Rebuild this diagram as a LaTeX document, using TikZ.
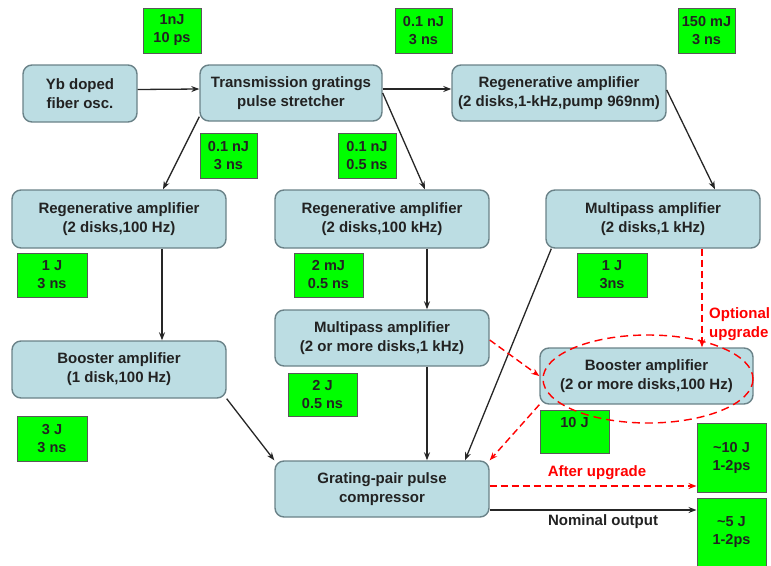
\documentclass[tikz,border=0pt]{standalone}
\usepackage{fontspec}
\setmainfont{Liberation Sans}
\usetikzlibrary{arrows.meta}
\definecolor{boxfill}{HTML}{BCDDE3}
\definecolor{boxline}{HTML}{6A8288}
\definecolor{grn}{HTML}{00FF00}
\definecolor{txt}{HTML}{222222}
\tikzset{
 blk/.style={draw=boxline, fill=boxfill, rounded corners=9pt, line width=1.4pt, align=center, inner sep=0pt, text=txt,
   font=\bfseries\fontsize{15}{19}\selectfont, minimum width=214pt, minimum height=57pt},
 gbox/.style={draw=black!65, fill=grn, line width=1pt, align=center, inner sep=0pt, text=txt,
   font=\bfseries\fontsize{14.5}{18}\selectfont},
 arr/.style={-{Stealth[length=8pt,width=6pt]}, line width=1.3pt, draw=black!85},
 rarr/.style={-{Stealth[length=8pt,width=6pt]}, line width=1.4pt, draw=red, dash pattern=on 7pt off 4pt},
 rlab/.style={text=red, font=\bfseries\fontsize{15}{19}\selectfont, inner sep=0pt},
 blab/.style={text=txt, font=\bfseries\fontsize{15}{19}\selectfont, inner sep=0pt}
}
\begin{document}
\begin{tikzpicture}[x=1pt,y=-1pt]
\useasboundingbox (0,0) rectangle (771,565);
% main blocks
\node[blk, minimum width=114pt, minimum height=57pt] (yb) at (80,93.5) {Yb doped\\fiber osc.};
\node[blk, minimum width=182pt, minimum height=56pt] (str) at (291,93) {Transmission gratings\\pulse stretcher};
\node[blk, minimum height=56pt] (regR) at (559,93) {Regenerative amplifier\\(2 disks,1-kHz,pump 969nm)};
\node[blk, minimum height=58pt] (regL) at (119,219) {Regenerative amplifier\\(2 disks,100 Hz)};
\node[blk, minimum height=58pt] (regM) at (382,219) {Regenerative amplifier\\(2 disks,100 kHz)};
\node[blk, minimum height=58pt] (mpR) at (653,219) {Multipass amplifier\\(2 disks,1 kHz)};
\node[blk, minimum height=56pt] (mpM) at (382,338) {Multipass amplifier\\(2 or more disks,1 kHz)};
\node[blk] (boL) at (119,369.5) {Booster amplifier\\(1 disk,100 Hz)};
\node[blk, minimum width=213pt, minimum height=56pt] (boR) at (646.5,376) {Booster amplifier\\(2 or more disks,100 Hz)};
\node[blk, minimum height=56pt] (comp) at (382,489) {Grating-pair pulse\\compressor};
% green boxes
\node[gbox, minimum width=58pt, minimum height=45pt] (g1) at (172,30.5) {1nJ\\10 ps};
\node[gbox, minimum width=57pt, minimum height=45pt] (g2) at (423.5,30.5) {0.1 nJ\\3 ns};
\node[gbox, minimum width=57pt, minimum height=45pt] (g3) at (706.5,30.5) {150 mJ\\3 ns};
\node[gbox, minimum width=57pt, minimum height=45pt] (g4) at (228.5,155.5) {0.1 nJ\\3 ns};
\node[gbox, minimum width=58pt, minimum height=45pt] (g5) at (367,155.5) {0.1 nJ\\0.5 ns};
\node[gbox, minimum width=70pt, minimum height=44pt] (g6) at (52,275) {1 J\\3 ns};
\node[gbox, minimum width=69pt, minimum height=44pt] (g7) at (328.5,275) {2 mJ\\0.5 ns};
\node[gbox, minimum width=70pt, minimum height=44pt] (g8) at (612,275) {1 J\\3ns};
\node[gbox, minimum width=69pt, minimum height=43pt] (g9) at (322.5,394.5) {2 J\\0.5 ns};
\node[gbox, minimum width=70pt, minimum height=45pt] (g10) at (52,438.5) {3 J\\3 ns};
\node[gbox, minimum width=69pt, minimum height=43pt] (g11) at (574.5,431.5) {10 J\\\mbox{}};
\node[gbox, minimum width=69pt, minimum height=69pt] (g12) at (731.5,457.5) {\textasciitilde10 J\\1-2ps};
\node[gbox, minimum width=69pt, minimum height=68pt] (g13) at (731.5,532) {\textasciitilde5 J\\1-2ps};
% solid connectors
\draw[arr] ([yshift=4pt]yb.east) -- ([yshift=4pt]str.west);
\draw[arr] ([yshift=4pt]str.east) -- ([yshift=4pt]regR.west);
\draw[arr] ([yshift=5pt]str.south west) -- ([xshift=44pt]regL.north);
\draw[arr] (str.east) -- ([xshift=43pt]regM.north);
\draw[arr] ([yshift=3pt]regR.east) -- ([xshift=62pt]mpR.north);
\draw[arr] ([xshift=43pt]regL.south) -- ([xshift=43pt]boL.north);
\draw[arr] ([xshift=45pt]regM.south) -- ([xshift=45pt]mpM.north);
\draw[arr] ([xshift=45pt]mpM.south) -- ([xshift=45pt]comp.north);
\draw[arr] ([xshift=6pt]mpR.south west) -- ([xshift=83pt]comp.north);
\draw[arr] (boL.south east) -- (comp.north west);
\coordinate (nomS) at ([yshift=-21pt]comp.east);
\draw[arr] (nomS) -- (nomS -| g13.west);
\node[blab] (nomL) at (603,522) {Nominal output};
% red dashed connectors
\coordinate (aftS) at ([yshift=3pt]comp.east);
\draw[rarr] (aftS) -- (aftS -| g12.west);
\node[rlab] (aftL) at (597,473) {After upgrade};
\draw[rarr] ([yshift=-2pt]mpM.east) -- (boR.west);
\draw[rarr] (boR.south west) -- (comp.north east);
\coordinate (optS) at ([xshift=49pt]mpR.south);
\draw[rarr] (optS) -- (optS |- boR.north);
\node[rlab, anchor=west, align=left] (optL) at (709,324.5) {Optional\\upgrade};
% dashed ellipse
\draw[red, line width=1.4pt, dash pattern=on 8pt off 5pt] (648,379) ellipse [x radius=105, y radius=44];
\end{tikzpicture}
\end{document}
